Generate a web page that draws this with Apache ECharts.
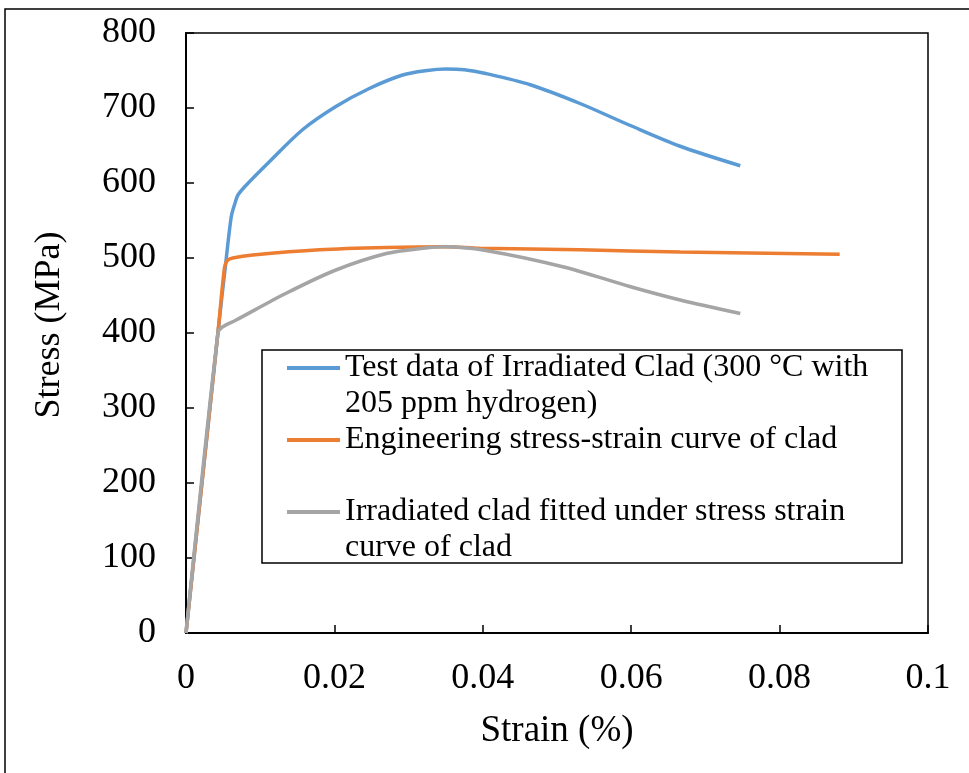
<!DOCTYPE html>
<html>
<head>
<meta charset="utf-8">
<script src="https://cdn.jsdelivr.net/npm/echarts@6/dist/echarts.min.js"></script>
<style>
  html, body { margin: 0; padding: 0; background: #fff; }
  #chart { width: 969px; height: 773px; }
</style>
</head>
<body>
<div id="chart"></div>
<script>
// strain (%) , stress (MPa) pairs
const testData = [
  [0, 0], [0.0043, 400], [0.0054, 497], [0.0061, 555], [0.0066, 573], [0.0070, 584],
  [0.0081, 597], [0.0112, 628], [0.0157, 671], [0.0202, 702], [0.0247, 726],
  [0.0292, 744], [0.0325, 750], [0.0350, 752], [0.0375, 751], [0.0404, 746],
  [0.0464, 731], [0.0531, 706], [0.0598, 677], [0.0666, 649], [0.0747, 623]
];
const engineeringCurve = [
  [0, 0], [0.0043, 400], [0.0052, 488], [0.0056, 497], [0.0063, 500], [0.0090, 504],
  [0.0180, 511], [0.0270, 514], [0.0350, 515], [0.0396, 513], [0.0531, 511],
  [0.0666, 508], [0.0881, 505]
];
const fittedCurve = [
  [0, 0], [0.0043, 400], [0.0049, 408], [0.0067, 417], [0.0135, 453], [0.0202, 484],
  [0.0270, 506], [0.0320, 513], [0.0350, 515], [0.0404, 510], [0.0509, 488],
  [0.0598, 462], [0.0666, 444], [0.0747, 426]
];

const seriesNames = [
  'Test data of Irradiated Clad (300 °C with 205 ppm hydrogen)',
  'Engineering stress-strain curve of clad',
  'Irradiated clad fitted under stress strain curve of clad'
];
// legend text, split as in the figure (leading blank line keeps the icon on the first text line)
const legendText = {
  [seriesNames[0]]: '\nTest data of Irradiated Clad (300 °C with\n205 ppm hydrogen)',
  [seriesNames[1]]: 'Engineering stress-strain curve of clad',
  [seriesNames[2]]: '\nIrradiated clad fitted under stress strain\ncurve of clad'
};
const colors = ['#5B9BD5', '#ED7D31', '#A5A5A5'];

const font = '"Liberation Serif", "Times New Roman", serif';

const chart = echarts.init(document.getElementById('chart'));

const option = {
  animation: false,
  backgroundColor: '#fff',
  color: colors,
  graphic: [
    {
      type: 'rect',
      shape: { x: 5, y: 9, width: 1000, height: 800 },
      style: { fill: 'none', stroke: '#000', lineWidth: 1.5 },
      silent: true
    },
    {
      type: 'rect',
      shape: { x: 262, y: 350, width: 640, height: 213 },
      style: { fill: 'none', stroke: '#000', lineWidth: 1.5 },
      silent: true,
      z: 10
    }
  ],
  grid: {
    left: 186,
    right: 41,
    top: 33,
    bottom: 140,
    show: true,
    borderColor: '#000',
    borderWidth: 1.5,
    backgroundColor: 'transparent'
  },
  legend: {
    orient: 'vertical',
    left: 287,
    top: 314,
    padding: 0,
    itemGap: 0,
    itemWidth: 53,
    itemHeight: 4,
    icon: 'rect',
    selectedMode: false,
    data: seriesNames,
    formatter: (name) => legendText[name],
    lineStyle: { width: 3.5 },
    textStyle: {
      fontFamily: font,
      fontSize: 32,
      lineHeight: 36,
      color: '#000'
    }
  },
  xAxis: {
    type: 'value',
    min: 0,
    max: 0.1,
    interval: 0.02,
    name: 'Strain (%)',
    nameLocation: 'middle',
    nameGap: 80,
    nameTextStyle: { fontFamily: font, fontSize: 37, color: '#000' },
    axisLine: { show: true, lineStyle: { color: '#000', width: 2 } },
    axisTick: { show: true, inside: true, length: 8, lineStyle: { color: '#000', width: 1.5 } },
    axisLabel: { fontFamily: font, fontSize: 36, color: '#000', margin: 28 },
    splitLine: { show: false }
  },
  yAxis: {
    type: 'value',
    min: 0,
    max: 800,
    interval: 100,
    name: 'Stress (MPa)',
    nameLocation: 'middle',
    nameGap: 118,
    nameTextStyle: { fontFamily: font, fontSize: 36, color: '#000', padding: [0, 0, 0, 16] },
    axisLine: { show: true, lineStyle: { color: '#000', width: 2 } },
    axisTick: { show: true, inside: true, length: 8, lineStyle: { color: '#000', width: 1.5 } },
    axisLabel: { fontFamily: font, fontSize: 36, color: '#000', margin: 30 },
    splitLine: { show: false }
  },
  series: [
    {
      name: seriesNames[0],
      type: 'line',
      data: testData,
      symbol: 'none',
      smooth: 0.3,
      lineStyle: { width: 3.5, color: colors[0] }
    },
    {
      name: seriesNames[1],
      type: 'line',
      data: engineeringCurve,
      symbol: 'none',
      smooth: 0.3,
      lineStyle: { width: 3.5, color: colors[1] }
    },
    {
      name: seriesNames[2],
      type: 'line',
      data: fittedCurve,
      symbol: 'none',
      smooth: 0.3,
      lineStyle: { width: 3.5, color: colors[2] }
    }
  ]
};

chart.setOption(option);
</script>
</body>
</html>
